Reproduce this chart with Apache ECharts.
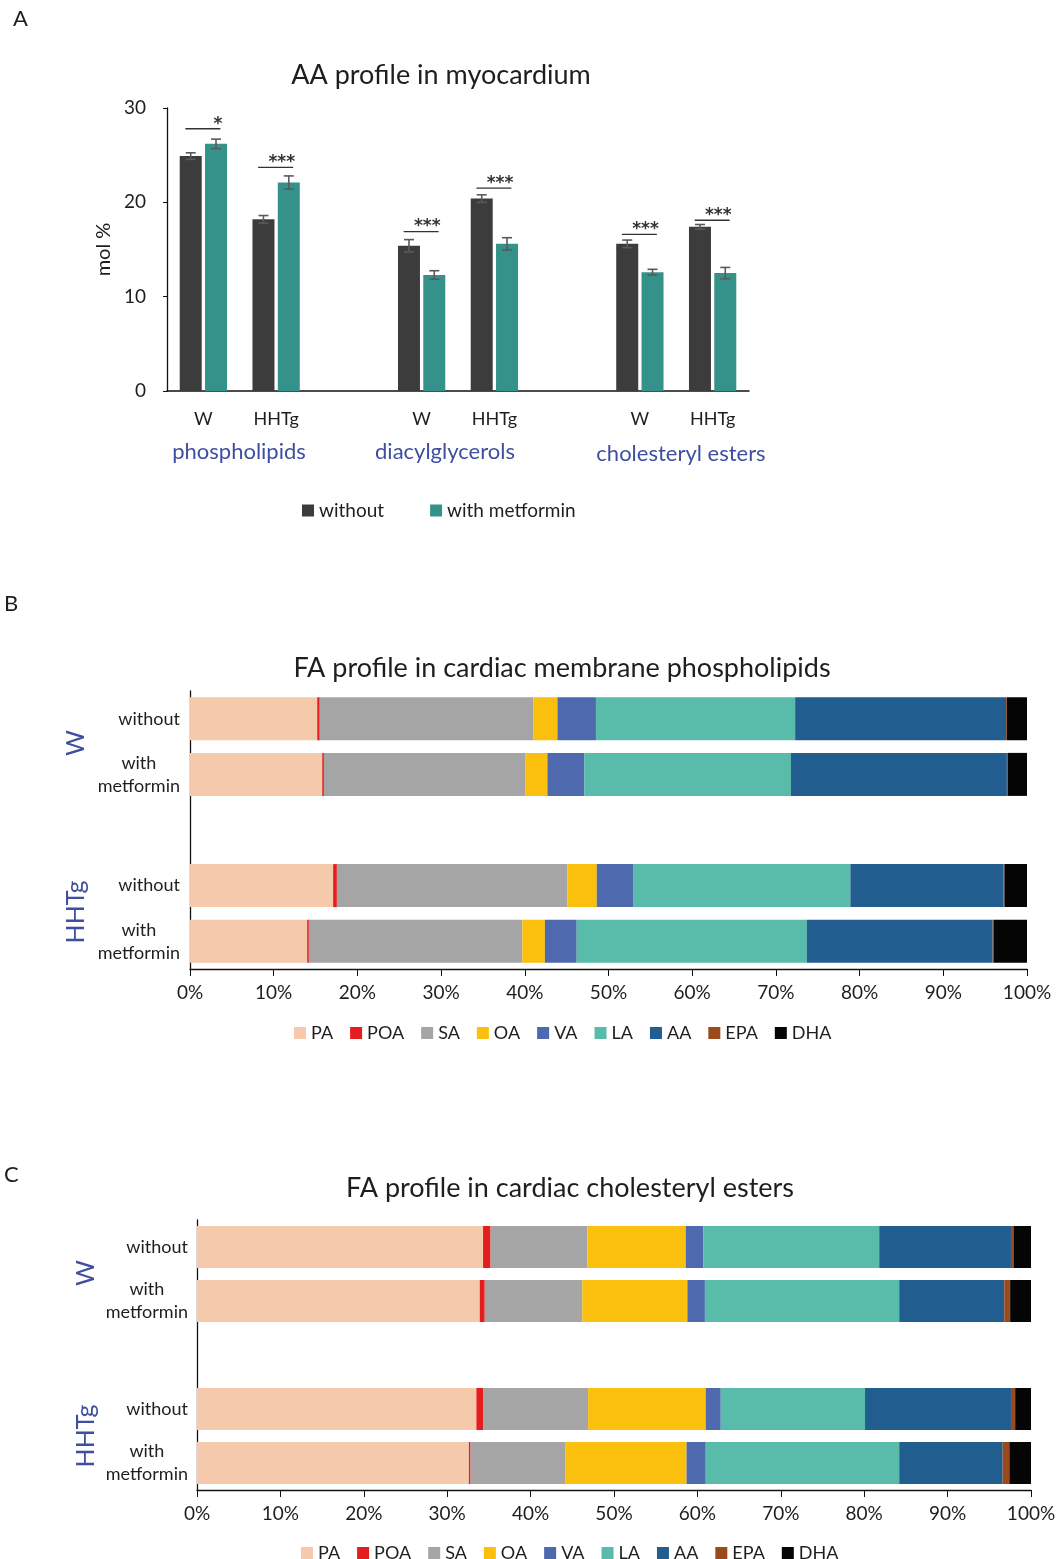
<!DOCTYPE html>
<html>
<head>
<meta charset="utf-8">
<script src="https://cdn.jsdelivr.net/npm/echarts@6.0.0/dist/echarts.min.js"></script>
<style>
html,body{margin:0;padding:0;background:#fff;}
#chart{width:1059px;height:1559px;}
</style>
</head>
<body>
<div id="chart"></div>
<script>
// ---------- Panel A data ----------
const aCategories = ['W', 'HHTg', '', 'W', 'HHTg', '', 'W', 'HHTg'];
const aWithout    = [24.9, 18.2, null, 15.4, 20.4, null, 15.6, 17.4];
const aWithoutErr = [0.35, 0.4, null, 0.65, 0.4, null, 0.4, 0.25];
const aWith       = [26.2, 22.1, null, 12.3, 15.6, null, 12.6, 12.5];
const aWithErr    = [0.5, 0.7, null, 0.45, 0.65, null, 0.3, 0.6];
const aSigLevel   = [27.8, 23.7, null, 16.9, 21.5, null, 16.6, 18.1];
const aSigText    = ['*', '***', '', '***', '***', '', '***', '***'];
const aGroupLabels = ['phospholipids', 'diacylglycerols', 'cholesteryl esters'];
const aYTicks = [0, 10, 20, 30];

// ---------- Panel B / C shared ----------
const faNames = ['PA', 'POA', 'SA', 'OA', 'VA', 'LA', 'AA', 'EPA', 'DHA'];
const rowLabels = ['without', 'with metformin', '', 'without', 'with metformin'];
const groupLabels = ['W', 'HHTg'];
const xPercentTicks = [0, 10, 20, 30, 40, 50, 60, 70, 80, 90, 100];

// ---------- Panel B data (membrane phospholipids) ----------
const bPA  = [15.2, 15.8, null, 17.1, 14.0];
const bPOA = [0.3, 0.2, null, 0.45, 0.2];
const bSA  = [25.5, 24.1, null, 27.55, 25.5];
const bOA  = [2.9, 2.6, null, 3.5, 2.7];
const bVA  = [4.6, 4.4, null, 4.4, 3.8];
const bLA  = [23.8, 24.7, null, 25.9, 27.5];
const bAA  = [25.2, 25.8, null, 18.3, 22.2];
const bEPA = [0.1, 0.1, null, 0.1, 0.1];
const bDHA = [2.4, 2.3, null, 2.7, 4.0];

// ---------- Panel C data (cholesteryl esters) ----------
const cPA  = [34.3, 33.9, null, 33.5, 32.6];
const cPOA = [0.9, 0.6, null, 0.8, 0.2];
const cSA  = [11.6, 11.7, null, 12.6, 11.4];
const cOA  = [11.8, 12.6, null, 14.1, 14.5];
const cVA  = [2.1, 2.1, null, 1.8, 2.3];
const cLA  = [21.1, 23.3, null, 17.3, 23.2];
const cAA  = [15.8, 12.6, null, 17.5, 12.4];
const cEPA = [0.3, 0.7, null, 0.5, 0.8];
const cDHA = [2.1, 2.5, null, 1.9, 2.6];

// ---------- styles ----------
const FONT = 'Lato, "Open Sans", sans-serif';
const TXT = '#1e1e1e';
const BLUE = '#3e4ea0';
const faColors = ['#f5c9ac', '#e41e1e', '#a5a5a5', '#fac00d', '#4e69ae', '#59bba9', '#215d8f', '#9b4a1c', '#050505'];
const colWithout = '#3c3c3c';
const colWith = '#35928b';
const BAR_W = 22, BAR_GAP = '15%';
const barCenterOff = (BAR_W + BAR_W * 0.15) / 2;

const bSeriesData = [bPA, bPOA, bSA, bOA, bVA, bLA, bAA, bEPA, bDHA];
const cSeriesData = [cPA, cPOA, cSA, cOA, cVA, cLA, cAA, cEPA, cDHA];

function errSeries(vals, errs, sign, name) {
  const data = [];
  vals.forEach((v, i) => { if (v != null) data.push([i, v, errs[i]]); });
  return {
    type: 'custom', name: name + ' err', xAxisIndex: 0, yAxisIndex: 0, z: 5,
    silent: true, data: data, encode: { x: 0, y: 1 },
    renderItem: function (params, api) {
      const i = api.value(0), v = api.value(1), e = api.value(2);
      const t = api.coord([i, v + e]);
      const b = api.coord([i, v - e]);
      const x = t[0] + sign * barCenterOff;
      const st = { stroke: '#5a5a5a', lineWidth: 1.6 };
      return {
        type: 'group', children: [
          { type: 'line', shape: { x1: x, y1: t[1], x2: x, y2: b[1] }, style: st },
          { type: 'line', shape: { x1: x - 5, y1: t[1], x2: x + 5, y2: t[1] }, style: st },
          { type: 'line', shape: { x1: x - 5, y1: b[1], x2: x + 5, y2: b[1] }, style: st }
        ]
      };
    }
  };
}

const sigData = [];
aSigLevel.forEach((v, i) => { if (v != null) sigData.push([i, v, aSigText[i]]); });

function percentBars(dataArr, axisIdx, stackName) {
  return dataArr.map((d, k) => ({
    type: 'bar', name: faNames[k], xAxisIndex: axisIdx, yAxisIndex: axisIdx,
    stack: stackName, data: d, barWidth: axisIdx === 1 ? 43 : 42,
    itemStyle: { color: faColors[k] }, emphasis: { disabled: true }, silent: true
  }));
}

function rowAxisLabel(margin) {
  return { interval: 0, margin: margin, color: TXT, fontFamily: FONT, fontSize: 18, lineHeight: 23,
    formatter: v => v === 'with metformin' ? '{c|with}\n{c|metformin}' : '{c|' + v + '}',
    rich: { c: { align: 'center', fontFamily: FONT, fontSize: 18, color: TXT, lineHeight: 23 } } };
}

function pctAxis(idx) {
  return { type: 'value', gridIndex: idx, min: xPercentTicks[0], max: xPercentTicks[xPercentTicks.length - 1], interval: 10,
    splitLine: { show: false },
    axisLine: { show: true, lineStyle: { color: '#111', width: 1.3 } },
    axisTick: { show: true, length: 7, lineStyle: { color: '#111' } },
    axisLabel: { formatter: '{value}%', fontFamily: FONT, fontSize: 19, color: TXT, margin: 14 } };
}

const titleStyle = { fontFamily: FONT, fontSize: 27, fontWeight: 'normal', color: TXT };
const legendText = { fontFamily: FONT, fontSize: 18, color: TXT };

const chart = echarts.init(document.getElementById('chart'), null, { renderer: 'canvas' });

const option = {
  backgroundColor: '#ffffff',
  animation: false,
  textStyle: { fontFamily: FONT },
  title: [
    { text: 'AA profile in myocardium', left: 436, top: 57, textAlign: 'center', textStyle: titleStyle },
    { text: 'FA profile in cardiac membrane phospholipids', left: 557, top: 650, textAlign: 'center', textStyle: titleStyle },
    { text: 'FA profile in cardiac cholesteryl esters', left: 565, top: 1170, textAlign: 'center', textStyle: titleStyle }
  ],
  legend: [
    { data: ['without', 'with metformin'], left: 297, top: 496, itemWidth: 12, itemHeight: 12,
      itemGap: 46, icon: 'rect', textStyle: { fontFamily: FONT, fontSize: 19, color: TXT } },
    { data: faNames, left: 289, top: 1019, itemWidth: 12, itemHeight: 12, itemGap: 17, icon: 'rect', textStyle: legendText },
    { data: faNames, left: 296, top: 1539, itemWidth: 12, itemHeight: 12, itemGap: 17, icon: 'rect', textStyle: legendText }
  ],
  grid: [
    { left: 167, top: 108, width: 582, height: 283 },
    { left: 190, top: 691, width: 837, height: 278 },
    { left: 197, top: 1220, width: 834, height: 270 }
  ],
  xAxis: [
    { type: 'category', gridIndex: 0, data: aCategories,
      axisLine: { lineStyle: { color: '#111', width: 1.5 } }, axisTick: { show: false },
      axisLabel: { fontFamily: FONT, fontSize: 18, color: TXT, margin: 19, interval: 0 } },
    pctAxis(1),
    pctAxis(2)
  ],
  yAxis: [
    { type: 'value', gridIndex: 0, min: aYTicks[0], max: aYTicks[aYTicks.length - 1], interval: 10,
      name: 'mol %', nameLocation: 'middle', nameRotate: 90, nameGap: 52,
      nameTextStyle: { fontFamily: FONT, fontSize: 20, color: TXT },
      splitLine: { show: false },
      axisLine: { show: true, lineStyle: { color: '#111', width: 1.3 } },
      axisTick: { show: true, length: 4, lineStyle: { color: '#111' } },
      axisLabel: { fontFamily: FONT, fontSize: 19, color: TXT, margin: 21 } },
    { type: 'category', gridIndex: 1, data: rowLabels, inverse: true,
      axisLine: { lineStyle: { color: '#111', width: 1.3 } }, axisTick: { show: false },
      axisLabel: rowAxisLabel(10) },
    { type: 'category', gridIndex: 2, data: rowLabels, inverse: true,
      axisLine: { lineStyle: { color: '#111', width: 1.3 } }, axisTick: { show: false },
      axisLabel: rowAxisLabel(9) }
  ],
  series: [
    { type: 'bar', name: 'without', xAxisIndex: 0, yAxisIndex: 0, data: aWithout,
      barWidth: BAR_W, barGap: BAR_GAP, itemStyle: { color: colWithout }, silent: true },
    { type: 'bar', name: 'with metformin', xAxisIndex: 0, yAxisIndex: 0, data: aWith,
      barWidth: BAR_W, barGap: BAR_GAP, itemStyle: { color: colWith }, silent: true },
    errSeries(aWithout, aWithoutErr, -1, 'without'),
    errSeries(aWith, aWithErr, 1, 'with metformin'),
    { type: 'custom', name: 'sig', xAxisIndex: 0, yAxisIndex: 0, z: 6, silent: true,
      data: sigData, encode: { x: 0, y: 1 },
      renderItem: function (params, api) {
        const p = api.coord([api.value(0), api.value(1)]);
        const txt = sigData[params.dataIndex][2];
        return { type: 'group', children: [
          { type: 'line', shape: { x1: p[0] - 18, y1: p[1], x2: p[0] + 17, y2: p[1] },
            style: { stroke: '#333', lineWidth: 1.3 } },
          { type: 'text', style: { text: txt, x: p[0] + 19, y: p[1] + 4, textAlign: 'right', textVerticalAlign: 'bottom',
            fontFamily: '"DejaVu Sans", sans-serif', fontSize: 17, fontWeight: 'bold', fill: '#333' } }
        ] };
      } }
  ].concat(percentBars(bSeriesData, 1, 'B')).concat(percentBars(cSeriesData, 2, 'C')),
  graphic: [
    { type: 'text', left: 13, top: 8, style: { text: 'A', fontFamily: FONT, fontSize: 22, fill: TXT } },
    { type: 'text', left: 4, top: 593, style: { text: 'B', fontFamily: FONT, fontSize: 22, fill: TXT } },
    { type: 'text', left: 4, top: 1164, style: { text: 'C', fontFamily: FONT, fontSize: 22, fill: TXT } },
    { type: 'text', x: 239, y: 452, style: { text: aGroupLabels[0], fontFamily: FONT, fontSize: 22, fill: BLUE, textAlign: 'center', textVerticalAlign: 'middle' } },
    { type: 'text', x: 445, y: 452, style: { text: aGroupLabels[1], fontFamily: FONT, fontSize: 22, fill: BLUE, textAlign: 'center', textVerticalAlign: 'middle' } },
    { type: 'text', x: 681, y: 454, style: { text: aGroupLabels[2], fontFamily: FONT, fontSize: 22, fill: BLUE, textAlign: 'center', textVerticalAlign: 'middle' } },
    { type: 'text', x: 76, y: 743, rotation: Math.PI / 2, style: { text: groupLabels[0], fontFamily: FONT, fontSize: 25, fill: BLUE, textAlign: 'center', textVerticalAlign: 'middle' } },
    { type: 'text', x: 76, y: 912, rotation: Math.PI / 2, style: { text: groupLabels[1], fontFamily: FONT, fontSize: 25, fill: BLUE, textAlign: 'center', textVerticalAlign: 'middle' } },
    { type: 'text', x: 86, y: 1273, rotation: Math.PI / 2, style: { text: groupLabels[0], fontFamily: FONT, fontSize: 25, fill: BLUE, textAlign: 'center', textVerticalAlign: 'middle' } },
    { type: 'text', x: 86, y: 1436, rotation: Math.PI / 2, style: { text: groupLabels[1], fontFamily: FONT, fontSize: 25, fill: BLUE, textAlign: 'center', textVerticalAlign: 'middle' } }
  ]
};
chart.setOption(option);
</script>
</body>
</html>
